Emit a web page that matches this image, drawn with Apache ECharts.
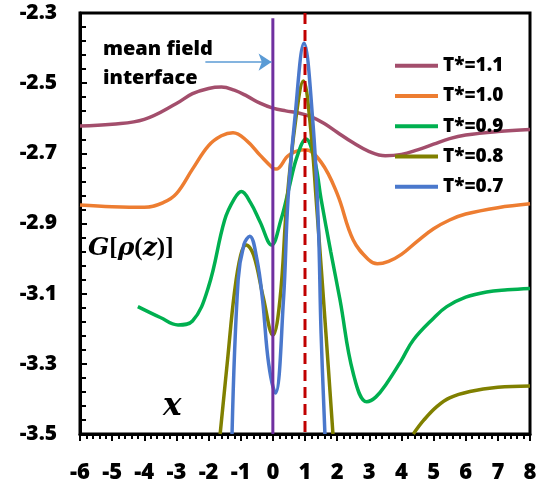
<!DOCTYPE html>
<html><head><meta charset="utf-8">
<script src="https://cdn.jsdelivr.net/npm/echarts@6/dist/echarts.min.js"></script>
<style>html,body{margin:0;padding:0;background:#fff}#c{width:541px;height:484px}</style>
</head><body><div id="c"></div>
<script>
// ---- data ----
const seriesNames = ['T*=1.1', 'T*=1.0', 'T*=0.9', 'T*=0.8', 'T*=0.7'];

const x11 = [-6, -5, -4, -3, -2.5, -2, -1.6, -1.2, -0.8, -0.4, 0, 0.4, 0.8, 1.2, 1.6, 2, 2.5, 3, 3.5, 4, 4.5, 5, 5.5, 6, 7, 8];
const y11 = [-2.622, -2.617, -2.603, -2.558, -2.530, -2.515, -2.511, -2.520, -2.537, -2.557, -2.571, -2.579, -2.585, -2.596, -2.615, -2.640, -2.670, -2.695, -2.707, -2.703, -2.690, -2.674, -2.658, -2.648, -2.638, -2.632];

const x10 = [-6, -5, -4, -3.4, -3, -2.5, -2, -1.6, -1.24, -0.8, -0.4, 0, 0.1, 0.5, 1, 1.5, 2, 2.5, 3, 3.25, 3.6, 4, 4.5, 5, 5.5, 6, 7, 8];
const y10 = [-2.847, -2.852, -2.854, -2.840, -2.815, -2.745, -2.678, -2.650, -2.641, -2.665, -2.705, -2.742, -2.745, -2.705, -2.690, -2.725, -2.815, -2.947, -3.005, -3.015, -3.008, -2.988, -2.950, -2.915, -2.890, -2.873, -2.855, -2.844];

const x09 = [-4.2, -3.5, -2.95, -2.5, -2, -1.5, -1.2, -0.98, -0.7, -0.4, -0.04, 0.25, 0.5, 0.75, 1.03, 1.3, 1.5, 1.8, 2.09, 2.5, 2.92, 3.2, 3.54, 4, 4.37, 5, 5.41, 6, 6.65, 7.3, 8];
const y09 = [-3.137, -3.168, -3.189, -3.178, -3.080, -2.890, -2.830, -2.809, -2.840, -2.895, -2.961, -2.890, -2.800, -2.710, -2.659, -2.720, -2.830, -2.980, -3.118, -3.327, -3.408, -3.395, -3.356, -3.290, -3.232, -3.170, -3.137, -3.110, -3.095, -3.089, -3.085];

const x08a = [-1.64, -1.4, -1.2, -1.0, -0.83, -0.6, -0.3, 0.0, 0.22, 0.44, 0.71, 0.95, 1.15, 1.37, 1.65, 1.87];
const y08a = [-3.5, -3.28, -3.10, -2.99, -2.961, -2.99, -3.11, -3.218, -3.118, -2.833, -2.605, -2.494, -2.605, -2.86, -3.212, -3.5];
const x08b = [4.37, 4.7, 5.1, 5.5, 6.13, 7, 8];
const y08b = [-3.5, -3.46, -3.422, -3.397, -3.379, -3.367, -3.363];

const x07 = [-1.27, -1.08, -0.9, -0.72, -0.5, -0.32, -0.13, 0.08, 0.33, 0.47, 0.68, 0.97, 1.24, 1.41, 1.5, 1.62];
const y07 = [-3.5, -3.061, -2.960, -2.936, -3.0, -3.118, -3.30, -3.383, -3.118, -2.833, -2.605, -2.386, -2.605, -2.89, -3.212, -3.5];

const interfaceX = [0, 0];       const interfaceY = [-2.315, -3.5];
const dashedX = [1, 1];          const dashedY = [-2.3, -3.5];
const arrowFrom = [-2.1, -2.44]; const arrowTo = [-0.04, -2.44];

const xMin = -6, xMax = 8, xStep = 1;
const yMin = -3.5, yMax = -2.3, yStep = 0.2;

// ---- chart ----
const colors = ['#A34E6C', '#ED7D31', '#00B050', '#808000', '#4A78CC'];
const zip = (xs, ys) => xs.map((x, i) => [x, ys[i]]);
const font = '"Open Sans", "Liberation Sans", sans-serif';

function curve(name, xs, ys, color) {
  return {
    name, type: 'line', data: zip(xs, ys), smooth: 0.4, showSymbol: false, symbol: 'none',
    lineStyle: { color, width: 3.5 }, itemStyle: { color }, clip: true, z: 2
  };
}

const chart = echarts.init(document.getElementById('c'), null, { renderer: 'canvas' });
chart.setOption({
  animation: false,
  backgroundColor: '#fff',
  grid: { left: 80, right: 11, top: 13, bottom: 49, show: true, borderColor: '#000', borderWidth: 3, containLabel: false },
  legend: {
    data: seriesNames.map(n => ({ name: n, icon: 'rect' })),
    orient: 'vertical', left: 390, top: 50, itemWidth: 43, itemHeight: 4, itemGap: 9,
    textStyle: { fontFamily: font, fontWeight: 800, fontSize: 19, color: '#000', lineHeight: 21.3 }
  },
  xAxis: {
    type: 'value', min: xMin, max: xMax, interval: xStep,
    axisLine: { show: true, onZero: false, lineStyle: { color: '#000', width: 3 } },
    axisTick: { show: true, inside: false, length: 7, lineStyle: { color: '#000', width: 2 } },
    minorTick: { show: true, splitNumber: 5, length: 5, lineStyle: { color: '#000', width: 2 } },
    splitLine: { show: false },
    axisLabel: { margin: 28, fontFamily: font, fontWeight: 800, fontSize: 22, color: '#000' }
  },
  yAxis: {
    type: 'value', min: yMin, max: yMax, interval: yStep,
    axisLine: { show: true, onZero: false, lineStyle: { color: '#000', width: 3 } },
    axisTick: { show: true, inside: true, length: 7, lineStyle: { color: '#000', width: 2 } },
    minorTick: { show: true, splitNumber: 5, length: 6, lineStyle: { color: '#000', width: 2 } },
    splitLine: { show: false },
    axisLabel: { margin: 23, fontFamily: font, fontWeight: 800, fontSize: 21, color: '#000',
      formatter: v => v.toFixed(1) }
  },
  series: [
    curve(seriesNames[0], x11, y11, colors[0]),
    curve(seriesNames[1], x10, y10, colors[1]),
    curve(seriesNames[2], x09, y09, colors[2]),
    curve(seriesNames[3], x08a, y08a, colors[3]),
    curve(seriesNames[3], x08b, y08b, colors[3]),
    curve(seriesNames[4], x07, y07, colors[4]),
    {
      name: 'interface', type: 'line', data: zip(interfaceX, interfaceY), symbol: 'none',
      lineStyle: { color: '#7030A0', width: 3 }, z: 3,
      markLine: {
        silent: true, symbol: ['none', 'arrow'], symbolSize: 13,
        lineStyle: { color: '#5B9BD5', width: 1.5, type: 'solid' }, label: { show: false },
        data: [[{ coord: arrowFrom }, { coord: arrowTo }]]
      }
    },
    {
      name: 'mid', type: 'line', data: zip(dashedX, dashedY), symbol: 'none',
      lineStyle: { color: '#C00000', width: 3, type: [11, 6] }, z: 4
    }
  ],
  graphic: [
    { type: 'text', left: 103, top: 35, z: 10,
      style: { text: 'mean field\ninterface', fill: '#000', font: '800 20px "Open Sans", sans-serif', lineHeight: 29 } },
    { type: 'text', left: 88, top: 236, z: 10,
      style: {
        text: '{i|G}{n|[}{i|ρ}{n|(}{i|z}{n|)]}',
        rich: {
          i: { font: 'italic bold 25px "DejaVu Serif", "Liberation Serif", serif', fill: '#000' },
          n: { font: 'bold 25px "Liberation Serif", serif', fill: '#000' }
        }
      } },
    { type: 'text', left: 163, top: 391, z: 10,
      style: { text: 'x', fill: '#000', font: 'italic bold 31px "DejaVu Serif", "Liberation Serif", serif' } }
  ]
});
</script></body></html>
